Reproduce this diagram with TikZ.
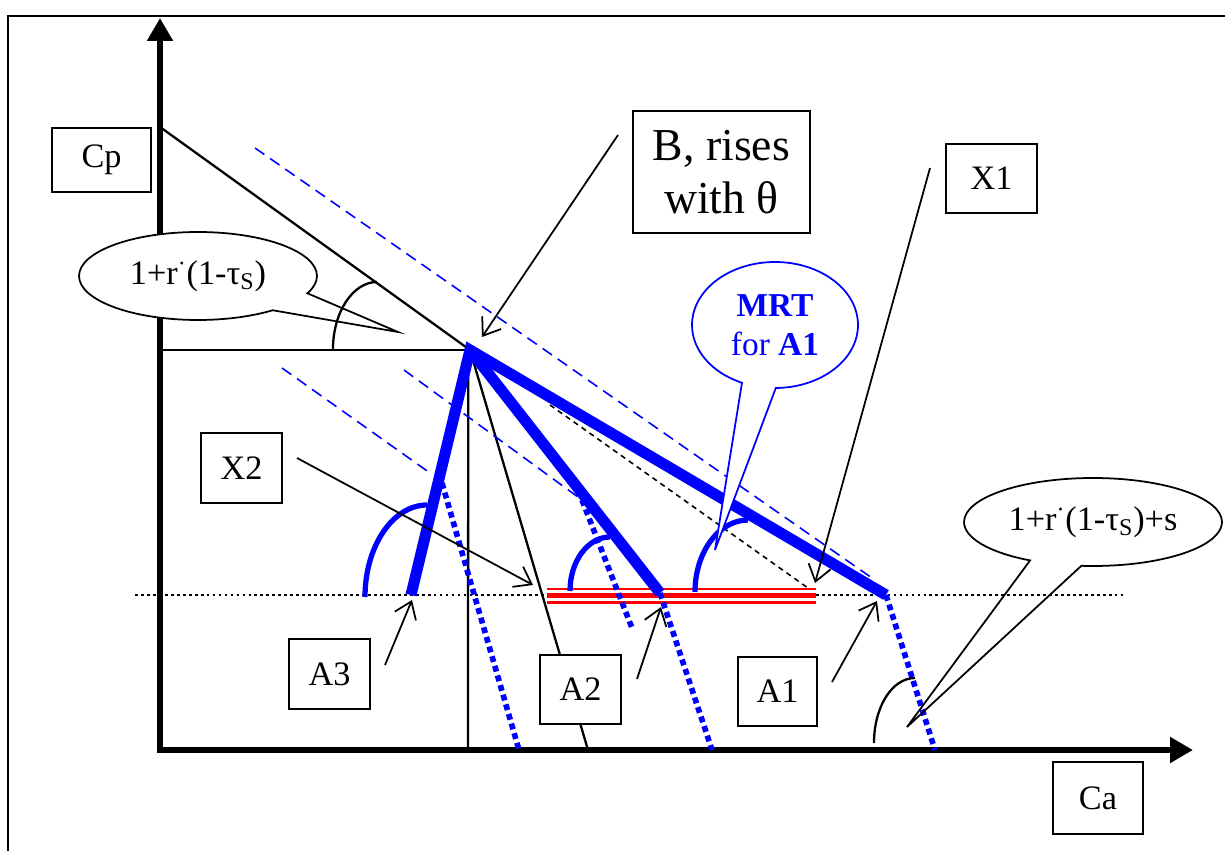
\documentclass[tikz,border=0pt]{standalone}
\usepackage{fontspec}
\setmainfont{Liberation Serif}
\usetikzlibrary{arrows.meta,shapes.callouts}

\begin{document}
\begin{tikzpicture}[
    x=0.02cm, y=-0.02cm,
    axis/.style={line width=3.8pt, -{Triangle[length=13pt,width=14pt]}},
    guide/.style={line width=1.3pt},
    pointer/.style={line width=1pt, -{Straight Barb[length=9pt,width=13pt]}},
    tag/.style={draw, fill=white, line width=1pt, inner sep=0pt,
                font=\fontsize{19.5}{23}\selectfont},
    bubble/.style={ellipse callout, draw, line width=1pt, inner sep=0pt,
                   callout pointer arc=24, font=\fontsize{19.5}{23}\selectfont},
    budget/.style={blue, line width=6.3pt},
    extension/.style={blue, line width=3.2pt, dash pattern=on 3.4pt off 2.3pt},
    isoline/.style={blue, line width=0.9pt, dash pattern=on 6.5pt off 4pt},
    anglemark/.style={blue, line width=3pt},
  ]
  \useasboundingbox (0,0) rectangle (1225,851);

  % === Frame ===
  \draw[line width=1.2pt] (8,851) |- (1225,16);

  % === Key points ===
  \coordinate (O) at (160,750);
  \coordinate (ytip) at (160,18);
  \coordinate (xtip) at (1193,750);
  \coordinate (cpcut) at (160,127);
  \coordinate (B) at (470,350);
  \coordinate (Bleft) at (160,350);
  \coordinate (Bfoot) at (468,750);
  \coordinate (Bslope) at (588,750);
  \coordinate (A3) at (411,595);
  \coordinate (A2) at (660,593);
  \coordinate (A1) at (886,595);

  % === Axes ===
  \draw[axis] ([yshift=-1.9pt]O) -- (ytip);
  \draw[axis] ([xshift=-1.9pt]O) -- (xtip);

  % === Thin guides from B ===
  \draw[guide] (cpcut) -- (B);
  \draw[guide] (Bleft) -- (B);
  \draw[guide] ([xshift=-1pt]B) -- (Bfoot);
  \draw[guide] (B) -- (Bslope);

  % level of the A points
  \coordinate (lvlL) at (135,595);
  \coordinate (lvlR) at (1126,595);
  \draw[line width=1.5pt, dash pattern=on 1.6pt off 1.8pt] (lvlL) -- (lvlR);

  % === Dashed parallels ===
  \coordinate (iso1a) at (255,148);
  \coordinate (iso1b) at (872,578);
  \coordinate (iso2a) at (282,368);
  \coordinate (iso2b) at (430,473);
  \coordinate (iso3a) at (404,370);
  \coordinate (iso3b) at (582,500);
  \draw[isoline] (iso1a) -- (iso1b);
  \draw[isoline] (iso2a) -- (iso2b);
  \draw[isoline] (iso3a) -- (iso3b);
  \coordinate (blka) at (550,405);
  \coordinate (blkb) at (808,588);
  \draw[line width=0.9pt, dash pattern=on 3pt off 2.5pt] (blka) -- (blkb);

  % === Red segment X2--X1 ===
  \draw[red, line width=1.4pt] (547,589) -- (816,589);
  \draw[red, line width=3.2pt] (547,595.5) -- (816,595.5);
  \draw[red, line width=1.4pt] (547,602.5) -- (816,602.5);

  % === Dotted continuations ===
  \coordinate (ext3a) at (442,483);
  \coordinate (ext3b) at (519,750);
  \coordinate (ext2a) at (582,500);
  \coordinate (ext2b) at (632,628);
  \coordinate (ext1b) at (712,750);
  \coordinate (ext0b) at (935,750);
  \draw[extension] (ext3a) -- (ext3b);
  \draw[extension] (ext2a) -- (ext2b);
  \draw[extension] (A2) -- (ext1b);
  \draw[extension] (A1) -- (ext0b);

  % === Thick blue lines ===
  \draw[budget, line join=miter] (A3) -- (B) -- (A1);
  \draw[budget] (B) -- (A2);

  % angle marks
  \draw[anglemark] (365,597) .. controls (365,546) and (393,505) .. (427,505);
  \draw[anglemark] (570,591) .. controls (570,561) and (588,537) .. (610,537);
  \draw[anglemark] (695,592) .. controls (695,552) and (719,520) .. (748,520);

  % === Callouts ===
  \node[bubble, fill=white, callout pointer arc=28,
        minimum width=4.76cm, minimum height=1.76cm,
        callout absolute pointer={(398,332)}] (rate) at (198,276)
    {1+r\textsuperscript{·}(1-τ\textsubscript{S})};
  \draw[guide] (333,349) .. controls (333,312) and (353,282) .. (377,282);

  \node[bubble, draw=blue, fill=white, text=blue, align=center,
        font=\fontsize{19}{22}\selectfont,
        minimum width=3.32cm, minimum height=2.52cm,
        callout absolute pointer={(715,550)}] (mrt) at (775,325)
    {\textbf{MRT}\\for \textbf{A1}};

  \node[bubble, minimum width=5.16cm, minimum height=1.76cm,
        callout absolute pointer={(907,727)}] (rates) at (1093,522)
    {1+r\textsuperscript{·}(1-τ\textsubscript{S})+s};
  \draw[guide] (874,743) .. controls (874,707) and (892,678) .. (915,678);

  % === Labels ===
  \node[tag, minimum width=1.98cm, minimum height=1.28cm] (cp) at (101.5,160) {Cp};
  \node[tag, minimum width=1.8cm, minimum height=1.44cm] (ca) at (1098,798) {Ca};
  \node[tag, align=center, font=\fontsize{26}{30}\selectfont,
        minimum width=3.54cm, minimum height=2.44cm] (bnote) at (721.5,172)
    {B, rises\\with θ};
  \node[tag, minimum width=1.82cm, minimum height=1.38cm] (x1) at (991.5,178.5) {X1};
  \node[tag, minimum width=1.62cm, minimum height=1.4cm] (x2) at (241.5,468) {X2};
  \node[tag, minimum width=1.62cm, minimum height=1.4cm] (a3) at (329.5,674) {A3};
  \node[tag, minimum width=1.62cm, minimum height=1.38cm] (a2) at (580.5,689.5) {A2};
  \node[tag, minimum width=1.58cm, minimum height=1.38cm] (a1) at (777.5,691.5) {A1};

  % === Pointers ===
  \coordinate (bTail) at (618,135);
  \coordinate (bHead) at (482,337);
  \coordinate (x1Tail) at (930,168);
  \coordinate (x1Head) at (815,583);
  \coordinate (x2Tail) at (297,458);
  \coordinate (x2Head) at (533,585);
  \coordinate (a3Tail) at (385,665);
  \coordinate (a3Head) at (412,600);
  \coordinate (a2Tail) at (637,679);
  \coordinate (a2Head) at (661,607);
  \coordinate (a1Tail) at (832,682);
  \coordinate (a1Head) at (877,601);
  \draw[pointer] (bTail) -- (bHead);
  \draw[pointer] (x1Tail) -- (x1Head);
  \draw[pointer] (x2Tail) -- (x2Head);
  \draw[pointer] (a3Tail) -- (a3Head);
  \draw[pointer] (a2Tail) -- (a2Head);
  \draw[pointer] (a1Tail) -- (a1Head);

\end{tikzpicture}
\end{document}
